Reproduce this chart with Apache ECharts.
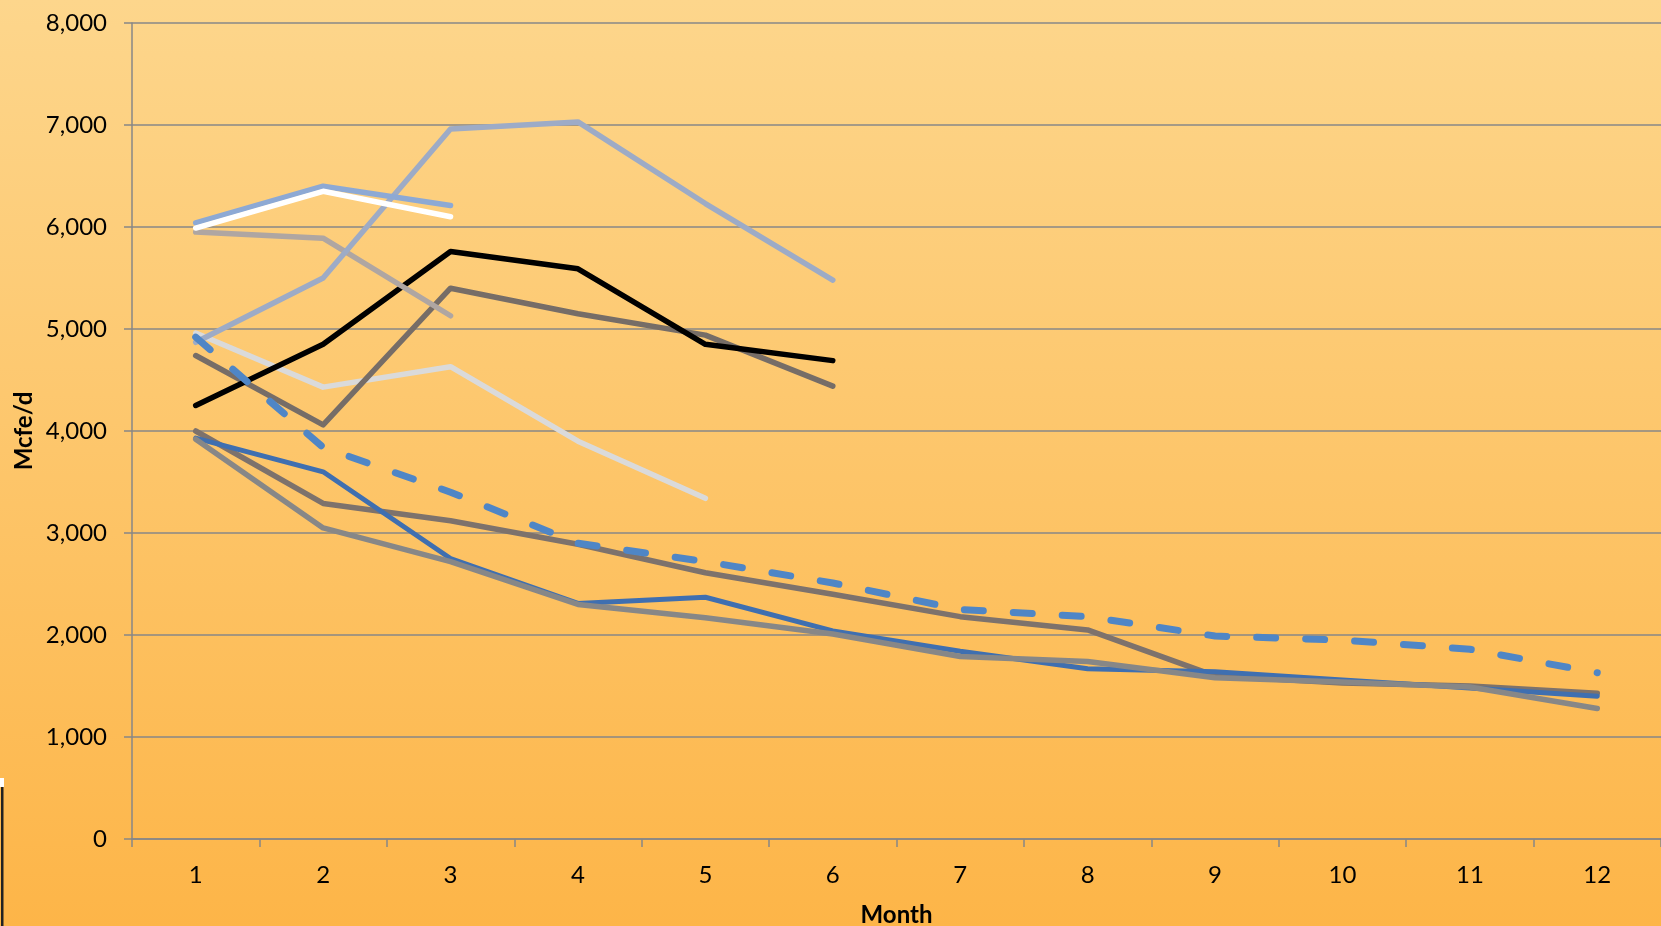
<!DOCTYPE html>
<html>
<head>
<meta charset="utf-8">
<script src="https://cdn.jsdelivr.net/npm/echarts@6/dist/echarts.min.js"></script>
<style>
html,body{margin:0;padding:0;width:1661px;height:926px;overflow:hidden;}
#chart{width:1661px;height:926px;}
</style>
</head>
<body>
<div id="chart"></div>
<script>
// Categories
var months = ['1','2','3','4','5','6','7','8','9','10','11','12'];

// Series values (Mcfe/d)
var lightBlue     = [6040, 6400, 6210];
var whiteLine     = [5990, 6350, 6100];
var beige         = [5950, 5890, 5130];
var blueGrayLong  = [4870, 5500, 6960, 7030, 6230, 5480];
var blackLine     = [4250, 4850, 5760, 5590, 4850, 4690];
var darkGray      = [4740, 4060, 5400, 5150, 4940, 4440];
var lightGray     = [4960, 4430, 4630, 3900, 3340];
var brownLong     = [4000, 3290, 3120, 2890, 2610, 2400, 2180, 2050, 1600, 1530, 1500, 1430];
var blueSolid     = [3930, 3600, 2750, 2310, 2370, 2040, 1840, 1670, 1640, 1560, 1480, 1400];
var grayLong      = [3920, 3050, 2720, 2300, 2170, 2010, 1790, 1740, 1580, 1540, 1490, 1280];
var dashedAvg     = [4920, 3840, 3400, 2900, 2720, 2510, 2250, 2180, 1990, 1950, 1860, 1630];

// Y-axis tick settings
var yMin = 0, yMax = 8000, yStep = 1000;

var FONT = 'Lato';

function line(data, color, width, dashed) {
  return {
    type: 'line',
    data: data,
    symbol: 'none',
    silent: true,
    animation: false,
    lineStyle: {
      color: color,
      width: width,
      type: dashed ? [19, 30] : 'solid',
      cap: 'round',
      join: 'round'
    }
  };
}

var chart = echarts.init(document.getElementById('chart'), null, {renderer: 'canvas'});
chart.setOption({
  animation: false,
  backgroundColor: {
    type: 'linear', x: 0, y: 0, x2: 0, y2: 1,
    colorStops: [
      {offset: 0, color: '#FDD68C'},
      {offset: 1, color: '#FDB548'}
    ]
  },
  grid: {left: 132, right: 0, top: 23, bottom: 87, containLabel: false, outerBoundsMode: 'none'},
  xAxis: {
    type: 'category',
    data: months,
    boundaryGap: true,
    name: 'Month',
    nameLocation: 'middle',
    nameGap: 64,
    nameMoveOverlap: false,
    nameTextStyle: {fontFamily: FONT, fontWeight: 'bold', fontSize: 24, color: '#000'},
    axisLine: {show: true, lineStyle: {color: '#878787', width: 1.5}},
    axisTick: {show: true, length: 8, inside: false, alignWithLabel: false, lineStyle: {color: '#878787', width: 1.5}},
    axisLabel: {fontFamily: FONT, fontSize: 24, color: '#000', margin: 24},
    splitLine: {show: false}
  },
  yAxis: {
    type: 'value',
    min: yMin, max: yMax, interval: yStep,
    name: 'Mcfe/d',
    nameLocation: 'middle',
    nameRotate: 90,
    nameGap: 96,
    nameMoveOverlap: false,
    nameTextStyle: {fontFamily: FONT, fontWeight: 'bold', fontSize: 24, color: '#000'},
    axisLine: {show: true, lineStyle: {color: '#878787', width: 1.5}},
    axisTick: {show: true, length: 8, inside: false, lineStyle: {color: '#878787', width: 1.5}},
    axisLabel: {
      fontFamily: FONT, fontSize: 24, color: '#000', margin: 25,
      formatter: function (v) { return v.toLocaleString('en-US'); }
    },
    splitLine: {show: true, lineStyle: {color: '#878787', width: 1.5}}
  },
  graphic: [
    {type: 'rect', left: 0, top: 778, shape: {width: 4, height: 9}, style: {fill: '#ffffff'}, silent: true},
    {type: 'rect', left: 1, top: 787, shape: {width: 2.5, height: 139}, style: {fill: '#222222'}, silent: true}
  ],
  series: [
    line(brownLong, '#7D726C', 5.5),
    line(blueSolid, '#3F6FB0', 5),
    line(grayLong, '#878787', 5.5),
    line(lightGray, '#DADADA', 5.5),
    line(darkGray, '#766D67', 5.5),
    line(blackLine, '#000000', 5.5),
    line(beige, '#AFA6A2', 5.5),
    line(blueGrayLong, '#9DABC6', 5.5),
    line(lightBlue, '#8DA9D4', 5.5),
    line(whiteLine, '#FFFFFF', 5.5),
    line(dashedAvg, '#4F86C6', 7, true)
  ]
});
</script>
</body>
</html>
